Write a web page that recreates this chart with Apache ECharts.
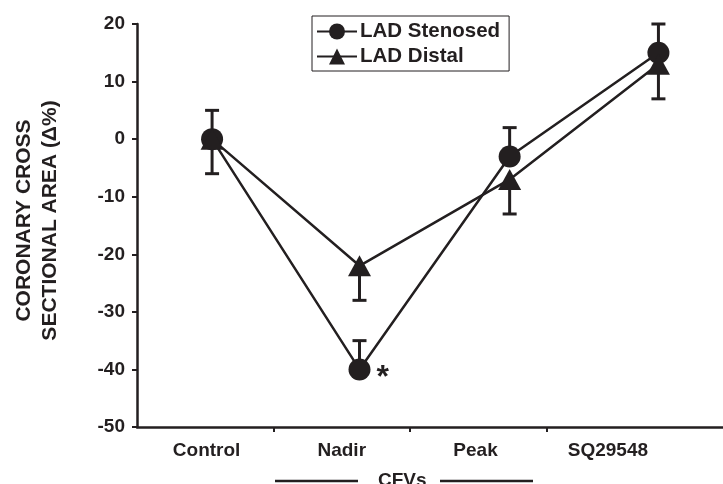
<!DOCTYPE html>
<html>
<head>
<meta charset="utf-8">
<script src="https://cdn.jsdelivr.net/npm/echarts@6/dist/echarts.min.js"></script>
<style>
html, body { margin: 0; padding: 0; background: #fff; }
#main { width: 723px; height: 484px; }
</style>
</head>
<body>
<div id="main"></div>
<script>
var categories = ['Control', 'Nadir', 'Peak', 'SQ29548'];
// positions along the x axis in band units: labels and points are not aligned in the figure
var labelX = [0.51, 1.5, 2.48, 3.45];
var pointX = [0.55, 1.63, 2.73, 3.82];
var stenosed = [0, -40, -3, 15];
var stenosedErr = [5, 5, 5, 5];     // drawn upwards
var distal = [0, -22, -7, 13];
var distalErr = [-6, -6, -6, -6];   // drawn downwards

var ink = '#231f20';
var font = 'Liberation Sans, Arial, sans-serif';

function pts(vals) {
	return vals.map(function(v, i) { return [pointX[i], v]; });
}
function errPts(vals, errs) {
	return vals.map(function(v, i) { return [pointX[i], v, errs[i]]; });
}

function errorBar(params, api) {
	var x = api.value(0), y = api.value(1), e = api.value(2);
	var p0 = api.coord([x, y]);
	var p1 = api.coord([x, y + e]);
	var style = { stroke: ink, lineWidth: 3 };
	return {
		type: 'group',
		children: [
			{ type: 'line', shape: { x1: p0[0], y1: p0[1], x2: p1[0], y2: p1[1] }, style: style },
			{ type: 'line', shape: { x1: p1[0] - 7, y1: p1[1], x2: p1[0] + 7, y2: p1[1] }, style: style }
		]
	};
}

var chart = echarts.init(document.getElementById('main'));

var stenosedData = pts(stenosed);
stenosedData[1] = {
	value: stenosedData[1],
	label: { show: true, position: 'right', distance: 6, formatter: '*', fontSize: 32, fontWeight: 'bold', color: ink, fontFamily: font, offset: [0, 9] }
};

var option = {
	backgroundColor: '#fff',
	animation: false,
	grid: { left: 137, right: 0, top: 24, bottom: 57, outerBoundsMode: 'none' },
	legend: {
		orient: 'vertical',
		left: 312,
		top: 16,
		padding: [5, 9, 4, 4],
		itemGap: 4,
		itemWidth: 40,
		itemHeight: 20,
		borderColor: ink,
		borderWidth: 1,
		textStyle: { fontFamily: font, fontSize: 20.5, fontWeight: 'bold', color: ink, padding: [0, 0, 0, -2] },
		data: ['LAD Stenosed', 'LAD Distal']
	},
	xAxis: {
		type: 'value',
		min: 0,
		max: 586 / 136.5,
		splitLine: { show: false },
		axisLine: { onZero: false, lineStyle: { color: ink, width: 2.5 } },
		axisTick: { show: true, length: 5, customValues: [1, 2, 3], lineStyle: { color: ink, width: 2 } },
		axisLabel: {
			customValues: labelX,
			margin: 14,
			fontFamily: font,
			fontSize: 19,
			fontWeight: 'bold',
			color: ink,
			formatter: function(v) { return categories[labelX.indexOf(v)]; }
		}
	},
	yAxis: {
		type: 'value',
		min: -50,
		max: 20,
		interval: 10,
		splitLine: { show: false },
		axisLine: { show: true, onZero: false, lineStyle: { color: ink, width: 2.5 } },
		axisTick: { show: true, length: 5, lineStyle: { color: ink, width: 2 } },
		axisLabel: {
			margin: 12,
			fontFamily: font,
			fontSize: 19,
			fontWeight: 'bold',
			color: ink
		},
		name: 'CORONARY CROSS\nSECTIONAL AREA (\u0394%)',
		nameLocation: 'middle',
		nameGap: 74,
		nameRotate: 90,
		nameTextStyle: { fontFamily: font, fontSize: 21, fontWeight: 'bold', color: ink, lineHeight: 26, padding: [0, 0, 0, 10] }
	},
	series: [
		{
			name: 'LAD Stenosed',
			type: 'line',
			data: stenosedData,
			symbol: 'circle',
			symbolSize: 22,
			z: 3,
			lineStyle: { color: ink, width: 2.5 },
			itemStyle: { color: ink, borderWidth: 0 }
		},
		{
			name: 'LAD Distal',
			type: 'line',
			data: pts(distal),
			symbol: 'triangle',
			symbolSize: [23, 21],
			z: 3,
			lineStyle: { color: ink, width: 2.5 },
			itemStyle: { color: ink, borderWidth: 0 }
		},
		{
			type: 'custom',
			renderItem: errorBar,
			data: errPts(stenosed, stenosedErr),
			z: 2,
			silent: true
		},
		{
			type: 'custom',
			renderItem: errorBar,
			data: errPts(distal, distalErr),
			z: 2,
			silent: true
		}
	],
	graphic: [
		{ type: 'line', shape: { x1: 275, y1: 481, x2: 358, y2: 481 }, style: { stroke: ink, lineWidth: 2.5 } },
		{ type: 'line', shape: { x1: 440, y1: 481, x2: 533, y2: 481 }, style: { stroke: ink, lineWidth: 2.5 } },
		{ type: 'text', left: 378, top: 471, style: { text: 'CFVs', font: 'bold 19px ' + font, fill: ink } }
	]
};

chart.setOption(option);
</script>
</body>
</html>
